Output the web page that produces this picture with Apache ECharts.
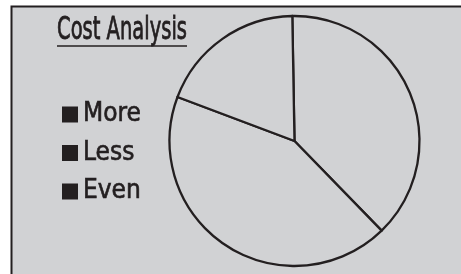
<!DOCTYPE html>
<html>
<head>
<meta charset="utf-8">
<script src="https://cdn.jsdelivr.net/npm/echarts@6/dist/echarts.min.js"></script>
<style>
  html, body { margin: 0; padding: 0; background: #fff; }
  #myChart { width: 461px; height: 274px; }
</style>
</head>
<body>
<div id="myChart"></div>
<script>
  // 数据
  var categories = ['More', 'Less', 'Even']
  var values = [38, 43, 19]
  var titleText = 'Cost Analysis'

  var fontFamily = "'DejaVu Sans Condensed', 'Liberation Sans Narrow', sans-serif"
  var ink = '#231f20'
  var panel = '#d1d2d4'

  // squeeze the title to the narrow width of the original face
  var titleFont = '32px ' + fontFamily
  var ctx = document.createElement('canvas').getContext('2d')
  ctx.font = titleFont
  var titleWidth = ctx.measureText(titleText).width
  var titleTarget = 130
  var titleScale = titleTarget / titleWidth

  var myChart = echarts.init(document.getElementById('myChart'))
  var pieData = categories.map(function (name, i) {
    return { name: name, value: values[i] }
  })

  myChart.setOption({
    backgroundColor: '#fff',
    animation: false,
    graphic: [
      {
        type: 'rect',
        z: -10,
        shape: { x: 11.5, y: 6.5, width: 470, height: 290 },
        style: { fill: panel, stroke: ink, lineWidth: 2 }
      },
      {
        type: 'text',
        z: 10,
        x: 57,
        y: 15,
        scaleX: titleScale,
        style: {
          text: titleText,
          font: titleFont,
          fill: ink,
          stroke: ink,
          lineWidth: 0.8,
          textAlign: 'left',
          textVerticalAlign: 'top'
        }
      },
      {
        type: 'line',
        z: 10,
        shape: { x1: 57, y1: 46, x2: 57 + titleTarget, y2: 46 },
        style: { stroke: ink, lineWidth: 1.6 }
      }
    ],
    legend: {
      orient: 'vertical',
      left: 57,
      top: 96,
      icon: 'rect',
      itemWidth: 16,
      itemHeight: 16,
      itemGap: 11.5,
      itemTextGap: 5,
      selectedMode: false,
      itemStyle: { color: ink, borderWidth: 0 },
      textStyle: {
        fontFamily: fontFamily,
        fontSize: 26,
        lineHeight: 27,
        color: ink,
        textBorderColor: ink,
        textBorderWidth: 0.6
      },
      data: categories
    },
    series: [{
      type: 'pie',
      center: [294.5, 141],
      radius: 125,
      startAngle: 91,
      clockwise: true,
      silent: true,
      label: { show: false },
      labelLine: { show: false },
      emphasis: { disabled: true },
      itemStyle: {
        color: panel,
        borderColor: ink,
        borderWidth: 2.3
      },
      data: pieData
    }]
  })
</script>
</body>
</html>
